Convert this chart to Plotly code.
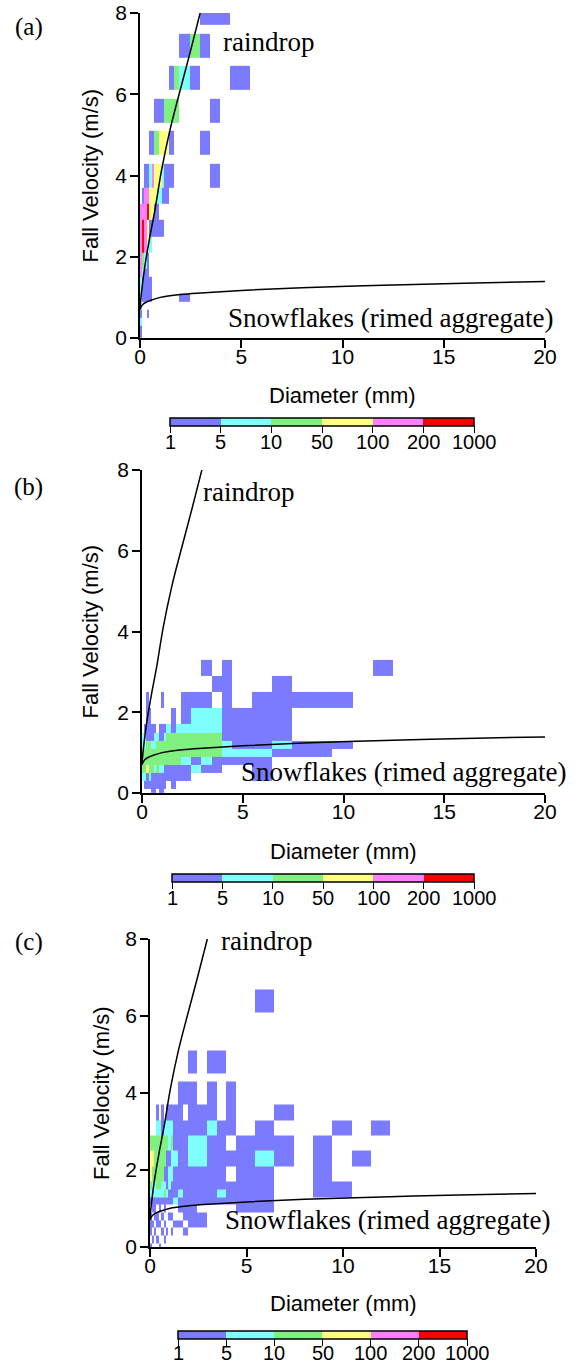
import plotly.graph_objects as go

W, H = 578, 1366

# ---------------- data ----------------
# diameter bin edges (mm) and velocity bin edges (m/s) of the 2-D histogram
D_EDGES = [0, 0.1, 0.2, 0.325, 0.45, 0.575, 0.7, 0.825, 0.95, 1.075, 1.2, 1.45, 1.7,
           1.95, 2.45, 2.95, 3.45, 3.95, 4.45, 5.45, 6.45, 7.45, 8.45, 9.45, 10.45,
           11.45, 12.45]
V_EDGES = [0, 0.1, 0.3, 0.5, 0.7, 0.9, 1.1, 1.3, 1.5, 1.7, 2.1, 2.5, 2.9, 3.3, 3.7,
           4.3, 4.5, 5.1, 5.3, 5.9, 6.1, 6.7, 6.9, 7.5, 7.7, 8.3]

# count classes (1 = 1-5, 2 = 5-10, 3 = 10-50, 4 = 50-100, 5 = 100-200, 6 = 200-1000)
LEVEL_LABELS = ["1", "5", "10", "50", "100", "200", "1000"]
LEVEL_COLORS = ["#7b7bff", "#80ffff", "#80f080", "#ffff80", "#ff80ff", "#ff0000"]

# rows listed from the highest velocity bin down to the lowest; '.' = no drops
PANEL_A_ROWS = [
    "...............111........",
    "..........................",
    ".............131..........",
    "..........................",
    "...........1321...1.......",
    "..........................",
    "......1111333...1.........",
    "..........................",
    "....11334441...1..........",
    "..........................",
    "..1125444211....1.........",
    ".1554442211...............",
    "55564411..................",
    "5654111111................",
    "56542.....................",
    "5321......................",
    "5211......................",
    "21111.....................",
    "21111.....................",
    "21111........1............",
    "2.........................",
    "1..1......................",
    "2.........................",
    "1.........................",
    "1.........................",
]

PANEL_B_ROWS = [
    "..........................",
    "..........................",
    "..........................",
    "..........................",
    "..........................",
    "..........................",
    "..........................",
    "..........................",
    "..........................",
    "..........................",
    "..........................",
    "..........................",
    "...............1.1.......1",
    "................11..1.....",
    "..1.....1....111.1.11111..",
    "..11.......1.12221111.....",
    ".11111.11121222221111.....",
    "221112211233333331111.....",
    "223322333333333332112111..",
    "33333333333333333222111...",
    "33333333333332121111......",
    "33433232211111211..1......",
    "22121111111111.....1......",
    ".111111111.1..............",
    "....11.11.................",
]

PANEL_C_ROWS = [
    "..........................",
    "..........................",
    "..........................",
    "..........................",
    "...................1......",
    "..........................",
    "..........................",
    "..........................",
    ".............1.11.........",
    "..........................",
    "...........111.1.1........",
    "...1.1.11111.111.1..1.....",
    "...221222211111211.1...1.1",
    "33333333231112211.111.1...",
    "443333311221122111121.1.1",
    "43333311221111111.11..1...",
    "32233221211111111111..11..",
    "22222232111211112111..11..",
    "11111111112111111111......",
    ".11.1.1....111....11......",
    "1.11.1..11..111...........",
    "11.11.1...11.11...........",
    "1.1..1.1.1..1.............",
    ".1.1..1...................",
    "1...1.....................",
]

RAIN_D = [0.0, 0.08, 0.25, 0.48, 0.73, 1.06, 1.47, 1.93, 2.46, 2.97]
RAIN_V = [0.75, 1.15, 1.8, 2.47, 3.13, 4.12, 5.1, 6.0, 7.0, 8.0]
SNOW_D = [0.0, 0.05, 0.15, 0.3, 0.6, 1.0, 2.0, 3.0, 5.0, 8.0, 12.0, 16.0, 20.0]
SNOW_V = [0.70, 0.76, 0.83, 0.88, 0.94, 1.0, 1.07, 1.11, 1.17, 1.24, 1.30, 1.35, 1.39]

X_TICKS = [0, 5, 10, 15, 20]
Y_TICKS = [0, 2, 4, 6, 8]

# ---------------- layout geometry (pixels) ----------------
PANELS = [
    dict(tag="(a)", rows=PANEL_A_ROWS, x0=140, x1=545, yt=13, yb=338,
         cb=(170, 474, 418), xt=395, yl=90, lab=(29, 27),
         rain=(221, 42), snow=(555, 318)),
    dict(tag="(b)", rows=PANEL_B_ROWS, x0=142, x1=545, yt=470, yb=793,
         cb=(172, 474, 874), xt=851, yl=90, lab=(28, 487),
         rain=(201, 492), snow=(568, 772)),
    dict(tag="(c)", rows=PANEL_C_ROWS, x0=150, x1=536, yt=939, yb=1247,
         cb=(178, 467, 1331), xt=1303, yl=101, lab=(29, 942),
         rain=(219, 941), snow=(552, 1220)),
]
CB_THICK = 8
CB_TICKLEN = 7

SANS = "Liberation Sans, Arial, Helvetica, sans-serif"
SERIF = "Liberation Serif, Times New Roman, serif"


def px(x):
    return x / W


def py(y):
    return 1 - y / H


NLEV = len(LEVEL_COLORS)
colorscale = []
for i, c in enumerate(LEVEL_COLORS):
    colorscale.append([i / NLEV, c])
    colorscale.append([(i + 1) / NLEV, c])

ncol = len(D_EDGES) - 1

fig = go.Figure()
annotations = []
layout_axes = {}

for k, p in enumerate(PANELS):
    n = "" if k == 0 else str(k + 1)
    xa, ya = "x" + n, "y" + n
    rows = [r.ljust(ncol, ".")[:ncol] for r in p["rows"]]
    z = [[None if ch == "." else int(ch) for ch in r] for r in reversed(rows)]

    cb_x0, cb_x1, cb_y = p["cb"]
    fig.add_trace(go.Heatmap(
        x=D_EDGES, y=V_EDGES, z=z, xaxis=xa, yaxis=ya,
        zmin=0.5, zmax=NLEV + 0.5, colorscale=colorscale, hoverongaps=False,
        colorbar=dict(
            orientation="h", x=px((cb_x0 + cb_x1) / 2), xanchor="center",
            y=py(cb_y), yanchor="top", len=cb_x1 - cb_x0, lenmode="pixels",
            thickness=CB_THICK, thicknessmode="pixels", xpad=0, ypad=0,
            outlinewidth=1.5, outlinecolor="black",
            tickvals=[i + 0.5 for i in range(NLEV + 1)], showticklabels=False,
            ticks="outside", ticklen=CB_TICKLEN, tickwidth=1.2, tickcolor="black",
        ),
    ))
    fig.add_trace(go.Scatter(
        x=RAIN_D, y=RAIN_V, xaxis=xa, yaxis=ya, mode="lines",
        line=dict(color="black", width=1.5, shape="spline"), hoverinfo="skip"))
    fig.add_trace(go.Scatter(
        x=SNOW_D, y=SNOW_V, xaxis=xa, yaxis=ya, mode="lines",
        line=dict(color="black", width=1.5, shape="spline"), hoverinfo="skip"))

    axis_common = dict(showline=True, linecolor="black", linewidth=1.5,
                       ticks="outside", ticklen=8, tickwidth=1.5, tickcolor="black",
                       showgrid=False, zeroline=False, automargin=False,
                       tickfont=dict(family=SANS, size=21, color="black"))
    layout_axes["xaxis" + n] = dict(
        axis_common, domain=[px(p["x0"]), px(p["x1"])], range=[0, 20],
        tickvals=X_TICKS, anchor=ya, ticklabelstandoff=-9)
    layout_axes["yaxis" + n] = dict(
        axis_common, domain=[py(p["yb"]), py(p["yt"])], range=[0, 8],
        tickvals=Y_TICKS, anchor=xa, ticklabelstandoff=-1)

    # colour-bar class labels, centred under the class boundaries
    step = (cb_x1 - cb_x0) / NLEV
    lab_bottom = min(cb_y + CB_THICK + 29, H)
    for i, lab in enumerate(LEVEL_LABELS):
        annotations.append(dict(
            text=lab, x=px(cb_x0 + i * step), y=py(lab_bottom),
            xref="paper", yref="paper", xanchor="center", yanchor="bottom",
            showarrow=False, font=dict(family=SANS, size=20, color="black")))

    annotations += [
        dict(text="Diameter (mm)", x=px((p["x0"] + p["x1"]) / 2), y=py(p["xt"]),
             xref="paper", yref="paper", xanchor="center", yanchor="middle",
             showarrow=False, font=dict(family=SANS, size=22, color="black")),
        dict(text="Fall Velocity (m/s)", x=px(p["yl"]), y=py((p["yt"] + p["yb"]) / 2),
             xref="paper", yref="paper", xanchor="center", yanchor="middle",
             textangle=-90, showarrow=False,
             font=dict(family=SANS, size=22, color="black")),
        dict(text=p["tag"], x=px(p["lab"][0]), y=py(p["lab"][1]),
             xref="paper", yref="paper", xanchor="center", yanchor="middle",
             showarrow=False, font=dict(family=SERIF, size=25, color="black")),
        dict(text="raindrop", x=px(p["rain"][0]), y=py(p["rain"][1]),
             xref="paper", yref="paper", xanchor="left", yanchor="middle",
             showarrow=False, font=dict(family=SERIF, size=27, color="black")),
        dict(text="Snowflakes (rimed aggregate)", x=px(p["snow"][0]), y=py(p["snow"][1]),
             xref="paper", yref="paper", xanchor="right", yanchor="middle",
             showarrow=False, font=dict(family=SERIF, size=27, color="black")),
    ]

fig.update_layout(
    width=W, height=H, margin=dict(l=0, r=0, t=0, b=0, autoexpand=False),
    paper_bgcolor="white", plot_bgcolor="white", showlegend=False,
    annotations=annotations, **layout_axes)

fig.write_html("out.html")
